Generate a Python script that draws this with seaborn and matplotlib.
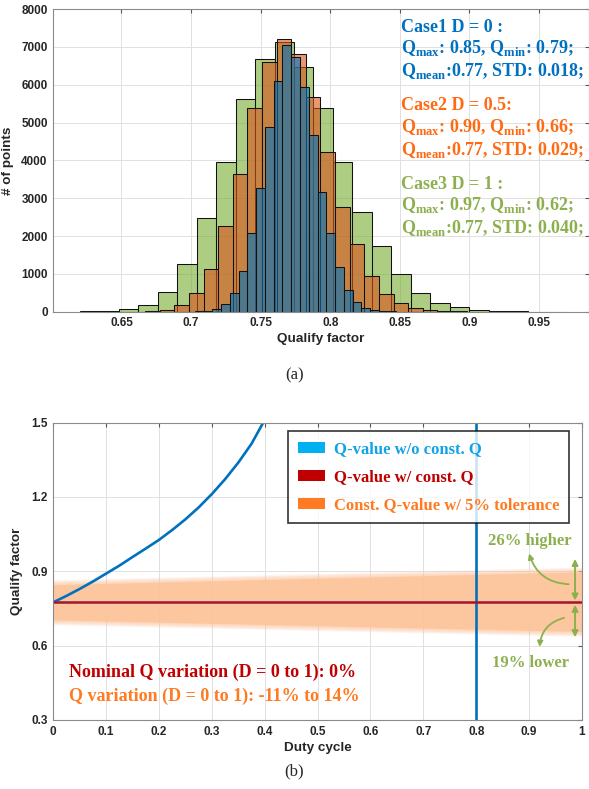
import numpy as np
import pandas as pd
import matplotlib
matplotlib.use("Agg")
import matplotlib.pyplot as plt
from matplotlib.patches import Patch
import seaborn as sns


# ---- (a) histogram data: bin start, bin width, counts per bin ----
case3_start = 0.620
case3_width = 0.0140
case3_counts = [5, 10, 60, 185, 530, 1250, 2475, 3950, 5610, 6670, 7140, 6480, 5375,
                3945, 2643, 1745, 1004, 505, 240, 115, 44, 18, 6, 2, 1]

case2_start = 0.6565
case2_width = 0.0105
case2_counts = [3, 12, 53, 167, 485, 1137, 2255, 3630, 5375, 6608, 7208, 6802, 5665,
                4220, 2758, 1789, 943, 476, 220, 88, 38, 14, 5, 1]

case1_start = 0.6964
case1_width = 0.0063
case1_counts = [3, 10, 26, 79, 194, 485, 1075, 2070, 3260, 4890, 6106, 7049, 6740,
                5948, 4660, 3172, 2088, 1190, 573, 264, 106, 44, 15, 5]

case_texts = [
    ("Case1 D = 0 :",
     r"$\mathbf{Q}_{\mathbf{max}}$: 0.85, $\mathbf{Q}_{\mathbf{min}}$: 0.79;",
     r"$\mathbf{Q}_{\mathbf{mean}}$:0.77, STD: 0.018;"),
    ("Case2 D = 0.5:",
     r"$\mathbf{Q}_{\mathbf{max}}$: 0.90, $\mathbf{Q}_{\mathbf{min}}$: 0.66;",
     r"$\mathbf{Q}_{\mathbf{mean}}$:0.77, STD: 0.029;"),
    ("Case3 D = 1 :",
     r"$\mathbf{Q}_{\mathbf{max}}$: 0.97, $\mathbf{Q}_{\mathbf{min}}$: 0.62;",
     r"$\mathbf{Q}_{\mathbf{mean}}$:0.77, STD: 0.040;"),
]
case_text_colors = ["#0070C0", "#FF6A13", "#8DB04F"]

# ---- (b) duty cycle data ----
duty = [0.0, 0.025, 0.05, 0.075, 0.10, 0.125, 0.15, 0.175, 0.20, 0.225, 0.25,
        0.275, 0.30, 0.325, 0.35, 0.375, 0.397]
q_no_const = [0.775, 0.801, 0.829, 0.859, 0.891, 0.923, 0.958, 0.992, 1.027, 1.067,
              1.110, 1.158, 1.212, 1.272, 1.339, 1.415, 1.500]
asymptote_duty = 0.8

const_duty = [0.0, 1.0]
const_q = [0.775, 0.775]
tol_upper = [0.846, 0.898]
tol_lower = [0.704, 0.657]

legend_labels = ["Q-value w/o const. Q", "Q-value w/ const. Q", "Const. Q-value w/ 5% tolerance"]
legend_colors = ["#00B0F0", "#C00000", "#FF7A21"]
legend_text_colors = ["#12A3E6", "#C00000", "#FF7A21"]

sns.set_style("white")
plt.rcParams["font.family"] = ["Liberation Sans", "DejaVu Sans"]
plt.rcParams["mathtext.fontset"] = "custom"
plt.rcParams["mathtext.rm"] = "Liberation Serif:bold"
plt.rcParams["mathtext.bf"] = "Liberation Serif:bold"

SERIF = "Liberation Serif"
GRID = "#e0e0e0"
SPINE = "#8a8a8a"
TICK = "#262626"


def style_axes(ax):
    ax.grid(True, color=GRID, linewidth=0.7)
    ax.set_axisbelow(True)
    for s in ax.spines.values():
        s.set_visible(True)
        s.set_color(SPINE)
        s.set_linewidth(0.8)
    ax.tick_params(direction="in", top=True, right=True, length=3, color="#555555",
                   labelsize=8.5, labelcolor=TICK, pad=4)
    for lab in ax.get_xticklabels() + ax.get_yticklabels():
        lab.set_fontweight("bold")


fig = plt.figure(figsize=(5.89, 7.89), dpi=100)

# ---------------- (a) ----------------
ax1 = fig.add_axes([0.0905, 0.605, 0.9095, 0.3835])
for start, width, counts, color in [
    (case3_start, case3_width, case3_counts, "#77AC30"),
    (case2_start, case2_width, case2_counts, "#D95319"),
    (case1_start, case1_width, case1_counts, "#0072BD"),
]:
    nbins = len(counts)
    lo, hi = start, start + width * nbins
    hist_df = pd.DataFrame({"q": start + width * (np.arange(nbins) + 0.5), "n": counts})
    sns.histplot(data=hist_df, x="q", weights="n", bins=nbins, binrange=(lo, hi),
                 color=color, alpha=0.6, edgecolor="#111111", linewidth=0.75, ax=ax1)

ax1.set_xlim(0.601, 0.986)
ax1.set_ylim(0, 8000)
ax1.set_xticks([0.65, 0.7, 0.75, 0.8, 0.85, 0.9, 0.95])
ax1.set_xticklabels(["0.65", "0.7", "0.75", "0.8", "0.85", "0.9", "0.95"])
ax1.set_yticks(range(0, 8001, 1000))
ax1.set_xlabel("Qualify factor", fontsize=9.7, fontweight="bold", color=TICK, labelpad=3)
ax1.set_ylabel("# of points", fontsize=9.7, fontweight="bold", color=TICK, labelpad=5)
style_axes(ax1)

tx = 0.851
ty = [7526, 6971, 6363]
for i, (lines, col) in enumerate(zip(case_texts, case_text_colors)):
    for j, line in enumerate(lines):
        ax1.text(tx, ty[j] - i * 2080, line, color=col, fontsize=13, family=SERIF,
                 fontweight="bold", va="center", ha="left")

fig.text(0.5, 1 - 375 / 789, "(a)", ha="center", va="center", family=SERIF, fontsize=12)

# ---------------- (b) ----------------
ax2 = fig.add_axes([0.0905, 0.0875, 0.8975, 0.3768])

# blurred tolerance band
n_layers = 8
for k in range(n_layers, 0, -1):
    pad = 0.0025 * k
    ax2.fill_between(const_duty, np.array(tol_lower) - pad, np.array(tol_upper) + pad,
                     color="#FDC8A2", alpha=0.13, linewidth=0)
ax2.fill_between(const_duty, tol_lower, tol_upper, color="#FCC59C", alpha=0.9, linewidth=0)

sns.lineplot(x=duty, y=q_no_const, color="#0072BD", linewidth=1.9, estimator=None,
             sort=False, ax=ax2)
sns.lineplot(x=[asymptote_duty, asymptote_duty], y=[0.3, 1.5], color="#0072BD",
             linewidth=1.9, estimator=None, sort=False, ax=ax2)
sns.lineplot(x=const_duty, y=const_q, color="#A2142F", linewidth=1.8, estimator=None,
             sort=False, ax=ax2)

ax2.set_xlim(0, 1)
ax2.set_ylim(0.3, 1.5)
ax2.set_xticks(np.round(np.arange(0, 1.01, 0.1), 1))
ax2.set_xticklabels(["0", "0.1", "0.2", "0.3", "0.4", "0.5", "0.6", "0.7", "0.8", "0.9", "1"])
ax2.set_yticks([0.3, 0.6, 0.9, 1.2, 1.5])
ax2.set_xlabel("Duty cycle", fontsize=9.7, fontweight="bold", color=TICK, labelpad=3)
ax2.set_ylabel("Qualify factor", fontsize=9.7, fontweight="bold", color=TICK, labelpad=6)
style_axes(ax2)

handles = [Patch(facecolor=c, edgecolor="none") for c in legend_colors]
leg = ax2.legend(handles, legend_labels, loc="upper right", bbox_to_anchor=(0.976, 0.971),
                 prop={"family": SERIF, "weight": "bold", "size": 12},
                 labelcolor=legend_text_colors, frameon=True, fancybox=False,
                 handlelength=1.6, handleheight=0.65, handletextpad=0.55,
                 labelspacing=0.72, borderpad=0.6, borderaxespad=0)
leg.get_frame().set_edgecolor("black")
leg.get_frame().set_linewidth(1.2)

ax2.text(0.029, 0.492, "Nominal Q variation (D = 0 to 1): 0%", color="#C00000",
         family=SERIF, fontweight="bold", fontsize=13, va="center")
ax2.text(0.029, 0.397, "Q variation (D = 0 to 1): -11% to 14%", color="#FF7A21",
         family=SERIF, fontweight="bold", fontsize=13, va="center")

green = "#8DB04F"
ax2.text(0.902, 1.022, "26% higher", color=green, family=SERIF, fontweight="bold",
         fontsize=12, ha="center", va="center")
ax2.text(0.903, 0.530, "19% lower", color=green, family=SERIF, fontweight="bold",
         fontsize=12, ha="center", va="center")
ax2.annotate("", xy=(0.987, 0.950), xytext=(0.987, 0.782),
             arrowprops=dict(arrowstyle="<|-|>", color=green, lw=1.4,
                             mutation_scale=9, shrinkA=0, shrinkB=0))
ax2.annotate("", xy=(0.987, 0.634), xytext=(0.987, 0.765),
             arrowprops=dict(arrowstyle="<|-|>", color=green, lw=1.4,
                             mutation_scale=9, shrinkA=0, shrinkB=0))
ax2.annotate("", xy=(0.900, 0.972), xytext=(0.975, 0.848),
             arrowprops=dict(arrowstyle="-|>", color=green, lw=1.3, mutation_scale=8,
                             connectionstyle="arc3,rad=-0.35", shrinkA=0, shrinkB=0))
ax2.annotate("", xy=(0.920, 0.595), xytext=(0.966, 0.712),
             arrowprops=dict(arrowstyle="-|>", color=green, lw=1.3, mutation_scale=8,
                             connectionstyle="arc3,rad=0.35", shrinkA=0, shrinkB=0))

fig.text(0.5, 1 - 771 / 789, "(b)", ha="center", va="center", family=SERIF, fontsize=12)

fig.savefig("out.png", dpi=100)
